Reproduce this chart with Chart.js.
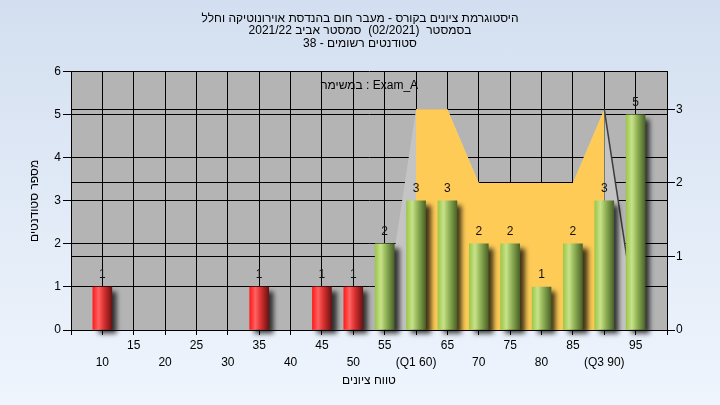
<!DOCTYPE html>
<html>
<head>
<meta charset="utf-8">
<script src="https://cdn.jsdelivr.net/npm/chart.js@4.4.1/dist/chart.umd.min.js"></script>
<style>
  html, body { margin: 0; padding: 0; }
  body {
    width: 720px; height: 405px; overflow: hidden;
    background: linear-gradient(to bottom, #d3dff0, #eff5fd);
  }
</style>
</head>
<body>
<canvas id="histogram" width="720" height="405"></canvas>
<script>
// grade ranges (first and last are empty padding slots)
const categories = ['', '10', '15', '20', '25', '30', '35', '40', '45', '50', '55',
                    '60', '65', '70', '75', '80', '85', '90', '95', ''];
const tickLabels = ['', '10', '15', '20', '25', '30', '35', '40', '45', '50', '55',
                    '(Q1 60)', '65', '70', '75', '80', '85', '(Q3 90)', '95', ''];

// number of students per range (left axis)
const studentCounts = [null, 1, null, null, null, null, 1, null, 1, 1, 2,
                       3, 3, 2, 2, 1, 2, 3, 5, null];

// right axis series
const distribution = [null, null, null, null, null, null, null, null, null, null, 0.2,
                      3, 3, 2, 2, 2, 2, 3, 0.2, null];
const quartileRange = [null, null, null, null, null, null, null, null, null, null, null,
                       3, 3, 2, 2, 2, 2, 3, null, null];

const passGrade = 55;

const titleLines = [
  'היסטוגרמת ציונים בקורס - מעבר חום בהנדסת אוירונוטיקה וחלל',
  'בסמסטר  (02/2021)  סמסטר אביב 2021/22',
  'סטודנטים רשומים - 38'
];
const examCaption = 'במשימה : Exam_A';
const xTitle = 'טווח ציונים';
const yTitle = 'מספר סטודנטים';

Chart.defaults.font.family = '"Liberation Sans", Arial, sans-serif';
Chart.defaults.font.size = 12;
Chart.defaults.color = '#000';

const redStops = [[0, '#ff1c1c'], [0.3, '#ff6262'], [0.55, '#e03434'], [1, '#6e1212']];
const greenStops = [[0, '#9cc84a'], [0.3, '#c8e28a'], [0.55, '#96b75a'], [1, '#4a6428']];

function barGradient(context) {
  const chart = context.chart;
  const xs = chart.scales.x;
  if (!xs || context.dataIndex === undefined) return '#9cc84a';
  const cx = xs.getPixelForValue(context.dataIndex);
  if (!Number.isFinite(cx)) return '#9cc84a';
  const g = chart.ctx.createLinearGradient(cx - 9.5, 0, cx + 9.5, 0);
  const stops = Number(categories[context.dataIndex]) < passGrade ? redStops : greenStops;
  stops.forEach(s => g.addColorStop(s[0], s[1]));
  return g;
}

const plotBackground = {
  id: 'plotBackground',
  beforeDraw(chart) {
    const {ctx, chartArea: a} = chart;
    ctx.save();
    ctx.fillStyle = '#b4b4b4';
    ctx.fillRect(a.left, a.top, a.right - a.left, a.bottom - a.top);
    ctx.restore();
  }
};

// drop shadow behind the bars
const barShadow = {
  id: 'barShadow',
  beforeDatasetDraw(chart, args) {
    if (args.index !== 0) return;
    const ctx = chart.ctx;
    ctx.save();
    ctx.shadowColor = 'rgba(0,0,0,0.75)';
    ctx.shadowBlur = 5;
    ctx.shadowOffsetX = 5;
    ctx.shadowOffsetY = 4;
  },
  afterDatasetDraw(chart, args) {
    if (args.index !== 0) return;
    chart.ctx.restore();
  }
};

// value labels above bars + caption inside the plot
const barLabels = {
  id: 'barLabels',
  afterDatasetsDraw(chart) {
    const ctx = chart.ctx;
    const meta = chart.getDatasetMeta(0);
    ctx.save();
    ctx.font = '12px "Liberation Sans", Arial, sans-serif';
    ctx.fillStyle = '#111';
    ctx.textAlign = 'center';
    ctx.textBaseline = 'middle';
    meta.data.forEach((bar, i) => {
      const v = studentCounts[i];
      if (!v) return;
      ctx.fillText(String(v), bar.x, bar.y - 12);
    });
    const a = chart.chartArea;
    ctx.fillStyle = '#000';
    ctx.fillText(examCaption, (a.left + a.right) / 2, a.top + 14);
    ctx.restore();
  }
};

new Chart(document.getElementById('histogram'), {
  type: 'bar',
  data: {
    labels: categories,
    datasets: [
      {
        type: 'bar',
        data: studentCounts,
        yAxisID: 'y',
        backgroundColor: barGradient,
        borderWidth: 0,
        barThickness: 19,
        clip: false
      },
      {
        type: 'line',
        data: quartileRange,
        yAxisID: 'y1',
        backgroundColor: '#ffcb57',
        borderWidth: 0,
        pointRadius: 0,
        tension: 0,
        fill: 'origin'
      },
      {
        type: 'line',
        data: distribution,
        yAxisID: 'y1',
        backgroundColor: '#c4c4c4',
        borderWidth: 1.5,
        segment: {
          borderColor: ctx => ctx.p0DataIndex === 17 ? '#3c3c3c' : 'rgba(0,0,0,0)'
        },
        pointRadius: 0,
        tension: 0,
        fill: 'origin'
      }
    ]
  },
  options: {
    responsive: false,
    animation: false,
    layout: { padding: 0 },
    plugins: {
      legend: { display: false },
      tooltip: { enabled: false },
      title: {
        display: true,
        text: titleLines,
        color: '#000',
        font: { size: 12, weight: 'normal', lineHeight: 1.05 },
        padding: { top: 12, bottom: 22 }
      }
    },
    scales: {
      x: {
        type: 'category',
        offset: false,
        grid: { offset: false, color: '#000', tickLength: 5 },
        border: { color: '#000' },
        ticks: {
          autoSkip: false,
          maxRotation: 0,
          minRotation: 0,
          padding: 2,
          color: '#000',
          font: { size: 12, lineHeight: '17px' },
          callback: (value, index) => index % 2 === 1 ? ['', tickLabels[index]] : tickLabels[index]
        },
        title: {
          display: true,
          text: xTitle,
          color: '#000',
          font: { size: 12 },
          padding: { top: 0, bottom: 17 }
        },
        afterFit(scale) { scale.height = 75; }
      },
      y: {
        position: 'left',
        min: 0,
        max: 6,
        grid: { color: '#000', tickLength: 8 },
        border: { color: '#000' },
        ticks: { stepSize: 1, padding: 2, color: '#000', font: { size: 12 } },
        title: {
          display: true,
          text: yTitle,
          color: '#000',
          font: { size: 12 },
          padding: { top: 27, bottom: 0 }
        },
        afterFit(scale) { scale.width = 71; }
      },
      y1: {
        position: 'right',
        min: 0,
        max: 3.51,
        grid: { color: '#000', tickLength: 8 },
        border: { color: '#000' },
        ticks: { stepSize: 1, includeBounds: false, padding: 1, color: '#000', font: { size: 12 } },
        afterFit(scale) { scale.width = 53; }
      }
    }
  },
  plugins: [plotBackground, barShadow, barLabels]
});
</script>
</body>
</html>
